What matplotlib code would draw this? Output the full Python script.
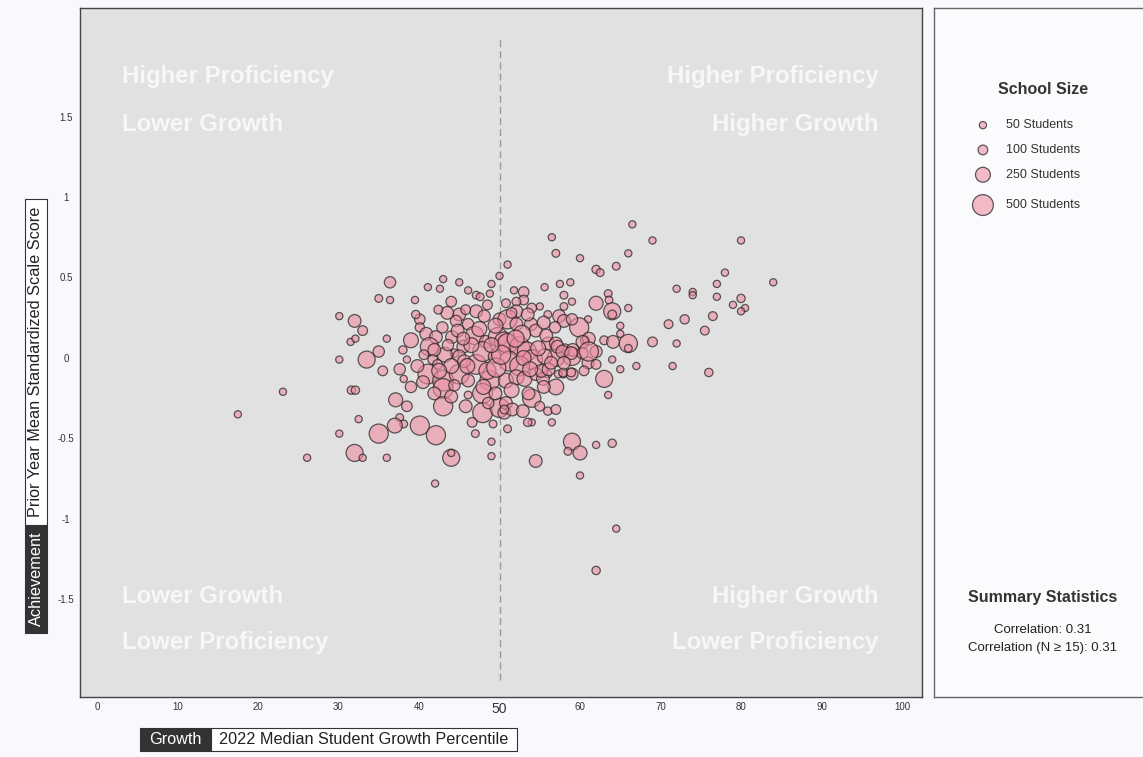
import matplotlib
matplotlib.use('Agg')
import matplotlib.pyplot as plt
from matplotlib.patches import Rectangle
import numpy as np

plt.rcParams['font.family'] = ['Liberation Sans', 'DejaVu Sans']

# ---------------- data ----------------
growth = [
    17.5, 23.1, 26.1, 30.1, 32.0, 33.0, 31.5, 32.1, 30.1, 33.5, 35.0, 35.5, 36.0, 35.0, 36.4, 36.4,
    31.6, 32.1, 32.5, 30.1, 35.0, 32.0, 33.0, 36.0,
    41.1, 42.6, 43.0, 45.0, 46.1, 47.1, 47.6, 44.0, 39.5, 40.1, 40.1, 40.9, 39.0, 38.5, 37.6, 38.1,
    39.0, 37.1, 38.5, 37.6, 38.1, 37.0, 40.1, 42.1, 44.0, 44.0, 49.0, 49.0, 54.5, 60.0, 59.0, 58.5,
    60.0, 62.0, 64.0, 54.0, 56.5, 56.0, 57.0, 57.0, 54.0, 63.5, 63.0, 65.0, 64.0, 67.0, 66.0, 66.0,
    65.0, 66.0, 64.5, 62.0, 62.5, 63.5, 63.6, 64.0, 64.0, 65.0, 62.0, 57.5, 58.0, 59.0, 58.0, 61.0,
    59.9, 57.4, 58.0, 59.0, 56.0, 55.0, 54.0, 53.0, 53.0, 52.1, 52.1, 47.1, 45.0, 48.1, 50.0, 60.6,
    61.1, 62.0, 61.0, 62.0, 59.0, 57.9, 57.3, 56.0, 59.0, 58.1, 57.0, 56.0, 57.0, 59.1, 60.3, 63.0,
    64.1,
    66.5, 69.0, 80.0, 66.0, 78.0, 77.0, 84.0, 72.0, 74.0, 74.0, 77.0, 80.0, 79.0, 80.5, 80.0, 73.0,
    76.5, 71.0, 75.5, 69.0, 72.0, 71.5, 76.0, 56.5, 57.0, 60.0, 51.0, 50.0, 49.0, 64.5, 62.0, 42.0,
    42.1, 44.1, 44.6, 46.1, 46.9, 48.3, 49.8, 50.6, 45.5, 44.4, 43.2, 41.3, 41.9, 41.7, 42.3, 41.1,
    43.0, 43.0, 43.0, 45.0, 46.1, 47.1, 47.9, 49.4, 48.8, 47.9, 47.9, 50.0, 50.6, 49.2, 46.1, 44.0,
    45.0, 45.6, 51.0, 52.1, 53.9, 54.5, 57.2, 57.8, 58.9, 60.3, 61.1, 51.0, 52.5, 53.4, 54.1, 51.2,
    52.5, 50.8, 52.1, 53.1, 54.5, 55.4, 50.8, 51.6, 52.9, 50.6, 55.2, 56.1, 57.9, 58.9,
    43.5, 45.8, 48.5, 50.8, 49.5, 47.5, 53.5, 55.5, 52.8, 55.8, 56.9, 44.8, 42.9, 40.6, 39.8, 40.5,
    41.9, 44.4, 45.8, 46.6, 48.6, 49.5, 51.5, 53.6, 55.0, 53.5, 51.0, 47.0, 46.0, 48.5, 49.6, 53.0,
    55.6, 56.4, 54.8, 39.6, 38.0, 42.4, 48.8, 51.8, 55.6, 58.8,
    46.5, 44.0, 50.2, 52.0, 48.0, 55.5, 58.0, 42.5, 45.5, 53.8, 49.0, 60.5, 43.6, 51.5,
]
achievement = [
    -0.35, -0.21, -0.62, 0.26, 0.23, 0.17, 0.10, 0.12, -0.01, -0.01, 0.04, -0.08, 0.12, 0.37, 0.47, 0.36,
    -0.20, -0.20, -0.38, -0.47, -0.47, -0.59, -0.62, -0.62,
    0.44, 0.43, 0.49, 0.47, 0.42, 0.39, 0.38, 0.35, 0.36, 0.24, 0.19, 0.15, 0.11, -0.01, -0.07, -0.13,
    -0.18, -0.26, -0.30, -0.37, -0.41, -0.42, -0.42, -0.48, -0.62, -0.59, -0.52, -0.61, -0.64, -0.73, -0.52, -0.58,
    -0.59, -0.54, -0.53, -0.40, -0.40, -0.33, -0.32, -0.18, -0.25, -0.23, -0.13, -0.07, -0.01, -0.05, 0.09, 0.06,
    0.15, 0.31, 0.57, 0.55, 0.53, 0.40, 0.36, 0.29, 0.27, 0.20, 0.34, 0.46, 0.39, 0.35, 0.32, 0.24,
    0.19, 0.26, 0.23, 0.24, 0.27, 0.32, 0.31, 0.41, 0.36, 0.35, 0.29, 0.29, 0.27, 0.26, 0.24, 0.11,
    0.12, 0.04, -0.03, -0.04, -0.10, -0.10, -0.10, -0.10, 0.01, 0.05, 0.00, 0.09, 0.09, 0.05, 0.03, 0.11,
    0.10,
    0.83, 0.73, 0.73, 0.65, 0.53, 0.46, 0.47, 0.43, 0.41, 0.39, 0.38, 0.37, 0.33, 0.31, 0.29, 0.24,
    0.26, 0.21, 0.17, 0.10, 0.09, -0.05, -0.09, 0.75, 0.65, 0.62, 0.58, 0.51, 0.46, -1.06, -1.32, -0.78,
    0.13, 0.13, 0.23, 0.21, 0.14, 0.10, 0.13, 0.10, 0.07, 0.03, 0.02, 0.07, 0.05, -0.01, -0.04, -0.10,
    -0.14, -0.19, -0.30, -0.10, -0.14, -0.04, 0.04, 0.01, -0.14, -0.22, -0.34, -0.31, -0.34, -0.41, -0.23, -0.24,
    0.01, -0.02, 0.24, 0.21, 0.21, 0.17, 0.07, 0.04, 0.03, 0.10, 0.04, 0.09, 0.07, 0.04, -0.01, -0.02,
    -0.05, -0.14, -0.12, -0.13, -0.10, -0.13, -0.28, -0.32, -0.33, -0.32, -0.08, -0.07, -0.09, -0.09,
    0.28, 0.30, 0.33, 0.34, 0.20, 0.18, 0.27, 0.22, 0.15, 0.14, 0.19, 0.17, 0.19, 0.02, -0.05, -0.15,
    -0.22, -0.17, -0.30, -0.40, -0.28, -0.22, -0.20, -0.22, -0.30, -0.40, -0.44, -0.47, -0.05, -0.08, -0.06, 0.00,
    0.01, -0.03, 0.06, 0.27, 0.05, 0.30, 0.40, 0.42, 0.44, 0.47,
    0.08, -0.05, 0.02, 0.12, -0.18, -0.18, -0.03, -0.08, 0.12, -0.07, 0.08, -0.08, 0.08, 0.28,
]
students = [
    50, 50, 50, 50, 180, 100, 50, 50, 50, 330, 140, 100, 50, 60, 140, 50,
    70, 70, 50, 50, 420, 330, 50, 50,
    50, 50, 50, 50, 50, 60, 60, 120, 50, 120, 90, 180, 250, 50, 140, 50,
    140, 220, 120, 60, 60, 250, 420, 420, 330, 50, 50, 50, 180, 50, 330, 60,
    220, 50, 70, 50, 50, 70, 100, 280, 380, 50, 330, 50, 50, 50, 380, 60,
    50, 50, 60, 70, 60, 60, 60, 330, 80, 50, 220, 50, 60, 50, 60, 50,
    420, 180, 180, 140, 60, 50, 100, 120, 100, 80, 180, 180, 180, 160, 180, 80,
    180, 160, 160, 100, 160, 60, 60, 60, 380, 160, 330, 180, 180, 180, 140, 80,
    180,
    50, 50, 50, 50, 50, 50, 50, 50, 50, 50, 50, 70, 50, 50, 50, 90,
    80, 80, 80, 100, 50, 50, 70, 50, 60, 50, 50, 50, 50, 50, 70, 50,
    180, 180, 140, 140, 380, 180, 420, 450, 180, 70, 250, 380, 180, 100, 100, 450,
    500, 450, 420, 450, 180, 450, 450, 180, 450, 450, 450, 420, 180, 60, 60, 180,
    180, 180, 420, 180, 180, 180, 180, 180, 180, 180, 420, 450, 450, 420, 450, 450,
    450, 250, 250, 250, 180, 180, 180, 180, 180, 80, 180, 180, 80, 80,
    180, 100, 100, 80, 250, 250, 180, 180, 330, 180, 140, 180, 140, 100, 180, 180,
    180, 140, 180, 100, 140, 180, 250, 180, 100, 70, 60, 60, 250, 330, 420, 250,
    250, 180, 250, 70, 70, 80, 50, 50, 50, 50,
    250, 250, 420, 330, 250, 180, 180, 250, 180, 250, 250, 100, 140, 120,
]

x_ticks = [0, 10, 20, 30, 40, 50, 60, 70, 80, 90, 100]
x_tick_labels = ['0', '10', '20', '30', '40', '50', '60', '70', '80', '90', '100']
y_ticks = [-1.5, -1, -0.5, 0, 0.5, 1, 1.5]
y_tick_labels = ['-1.5', '-1', '-0.5', '0', '0.5', '1', '1.5']
legend_sizes = [50, 100, 250, 500]
legend_labels = ['50 Students', '100 Students', '250 Students', '500 Students']
corr_all = 0.31
corr_n15 = 0.31
growth_cut = 50

# ---------------- figure ----------------
W, H = 1143, 757
FACE = (237/255, 142/255, 163/255, 0.6)
EDGE = (0.13, 0.13, 0.13, 0.72)


def size_fn(n):
    return 5 + 0.44 * np.asarray(n, dtype=float)


def fx(px):
    return px / W


def fy(py):
    return 1 - py / H


fig = plt.figure(figsize=(W / 100, H / 100), dpi=100, facecolor='#f9f9fd')
ax = fig.add_axes([fx(80), fy(697), fx(922) - fx(80), fy(8) - fy(697)])
ax.set_facecolor('#e1e1e1')
ax.set_xlim(-2.11, 102.48)
ax.set_ylim(-2.106, 2.174)
for s in ax.spines.values():
    s.set_color('#444444')
    s.set_linewidth(1.0)

ax.set_xticks(x_ticks)
ax.set_xticklabels(x_tick_labels)
ax.set_yticks(y_ticks)
ax.set_yticklabels(y_tick_labels)
ax.tick_params(axis='both', length=0, labelsize=7, colors='#333333')
ax.tick_params(axis='x', pad=3.5)
ax.tick_params(axis='y', pad=10)
for lab in ax.get_yticklabels():
    lab.set_horizontalalignment('center')
for lab in ax.get_xticklabels():
    if lab.get_text() == '50':
        lab.set_fontsize(10)

ax.vlines(growth_cut, -2, 2, colors='#9a9a9a', linestyles=(0, (5, 3)), linewidth=1, zorder=1)

ax.scatter(growth, achievement, s=size_fn(students), facecolors=[FACE], edgecolors=[EDGE],
           linewidths=0.9, zorder=2)

qkw = dict(fontsize=17.3, fontweight='bold', color='white', alpha=0.75, va='center', zorder=0.5)
ax.text(3.1, 1.75, 'Higher Proficiency', ha='left', **qkw)
ax.text(3.1, 1.45, 'Lower Growth', ha='left', **qkw)
ax.text(97.1, 1.75, 'Higher Proficiency', ha='right', **qkw)
ax.text(97.1, 1.45, 'Higher Growth', ha='right', **qkw)
ax.text(3.1, -1.48, 'Lower Growth', ha='left', **qkw)
ax.text(3.1, -1.77, 'Lower Proficiency', ha='left', **qkw)
ax.text(97.1, -1.48, 'Higher Growth', ha='right', **qkw)
ax.text(97.1, -1.77, 'Lower Proficiency', ha='right', **qkw)

# ---------------- axis label boxes ----------------
def box(x0, y0, x1, y1, fc):
    fig.patches.append(Rectangle((fx(x0), fy(y1)), fx(x1) - fx(x0), fy(y0) - fy(y1),
                                 transform=fig.transFigure, facecolor=fc, edgecolor='#333333',
                                 linewidth=0.8))

box(140, 728, 211, 751, '#333333')
box(211, 728, 517, 751, 'white')
fig.text(fx(175.5), fy(739.5), 'Growth', color='white', ha='center', va='center', fontsize=11.7)
fig.text(fx(364), fy(739.5), '2022 Median Student Growth Percentile', color='#222222',
         ha='center', va='center', fontsize=11.7)

box(25, 525, 47, 633, '#333333')
box(25, 199, 47, 525, 'white')
fig.text(fx(36), fy(579), 'Achievement', color='white', ha='center', va='center',
         fontsize=11.7, rotation=90)
fig.text(fx(36), fy(362), 'Prior Year Mean Standardized Scale Score', color='#222222',
         ha='center', va='center', fontsize=11.7, rotation=90)

# ---------------- right panel ----------------
ax2 = fig.add_axes([fx(934), fy(697), 0.2, fy(8) - fy(697)])
ax2.set_facecolor('#fbfbfe')
ax2.set_xticks([])
ax2.set_yticks([])
ax2.set_xlim(0, 1)
ax2.set_ylim(0, 1)
for s in ax2.spines.values():
    s.set_color('#666666')
    s.set_linewidth(1.0)

ax2.text(0.477, 0.881, 'School Size', ha='center', va='center', fontsize=11.5,
         fontweight='bold', color='#333333')
leg_y = [0.830, 0.794, 0.758, 0.714]
ax2.scatter([0.214] * len(legend_sizes), leg_y, s=size_fn(legend_sizes), facecolors=[FACE],
            edgecolors=[EDGE], linewidths=0.9, clip_on=False)
for yy, lab in zip(leg_y, legend_labels):
    ax2.text(0.315, yy, lab, ha='left', va='center', fontsize=9, color='#333333')

ax2.text(0.477, 0.145, 'Summary Statistics', ha='center', va='center', fontsize=11.5,
         fontweight='bold', color='#333333')
ax2.text(0.477, 0.097, f'Correlation: {corr_all:.2f}', ha='center', va='center', fontsize=9.5,
         color='#222222')
ax2.text(0.477, 0.071, f'Correlation (N \u2265 15): {corr_n15:.2f}', ha='center', va='center',
         fontsize=9.5, color='#222222')

fig.savefig('out.png', dpi=100, facecolor=fig.get_facecolor())
